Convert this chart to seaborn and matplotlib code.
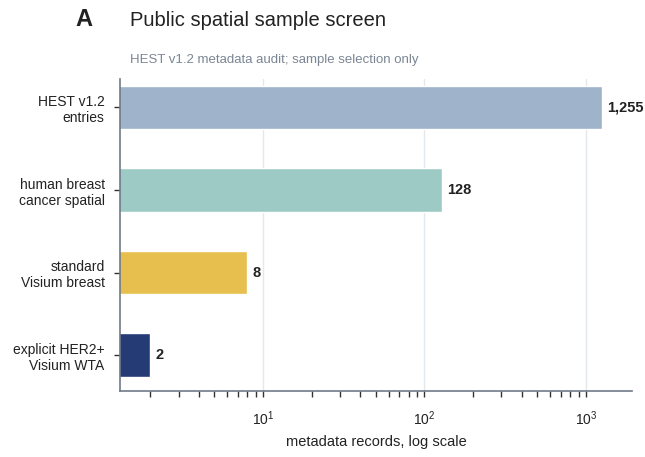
import matplotlib
matplotlib.use("Agg")
import matplotlib.pyplot as plt
import seaborn as sns
import pandas as pd
from matplotlib.ticker import LogLocator, NullFormatter

categories = ["HEST v1.2\nentries", "human breast\ncancer spatial",
              "standard\nVisium breast", "explicit HER2+\nVisium WTA"]
counts = [1255, 128, 8, 2]
count_labels = ["1,255", "128", "8", "2"]
bar_colors = ["#9fb3ca", "#9ecac6", "#e6bf4e", "#243b75"]

sns.set_theme(style="white")
plt.rcParams["font.family"] = ["Liberation Sans", "DejaVu Sans"]

df = pd.DataFrame({"category": categories, "count": counts})

fig = plt.figure(figsize=(6.45, 4.57), dpi=100)
ax = fig.add_axes([120 / 645, 1 - 391 / 457, 512 / 645, 312 / 457])
ax.set_xscale("log")

sns.barplot(data=df, x="count", y="category", hue="category",
            palette=bar_colors, legend=False, width=0.53, ax=ax,
            saturation=1)

ax.set_xlim(1.3, 1930)
ax.set_ylim(3.435, -0.345)

ax.xaxis.set_major_locator(LogLocator(base=10))
ax.xaxis.set_minor_locator(LogLocator(base=10, subs=range(2, 10)))
ax.xaxis.set_minor_formatter(NullFormatter())
ax.grid(axis="x", which="major", color="#e3e7ee", linewidth=1)
ax.set_axisbelow(True)

spine_color = "#6f7a88"
for side in ["top", "right"]:
    ax.spines[side].set_visible(False)
for side in ["left", "bottom"]:
    ax.spines[side].set_color(spine_color)
    ax.spines[side].set_linewidth(1.2)

ax.tick_params(axis="x", which="major", length=4, width=1, color="#333333",
               bottom=True, labelsize=10, pad=9, labelcolor="#222222")
ax.tick_params(axis="x", which="minor", length=4, width=1, color="#333333",
               bottom=True)
ax.tick_params(axis="y", length=4, width=1, color="#333333", left=True,
               labelsize=10, pad=7, labelcolor="#222222")
for lab in ax.get_yticklabels():
    lab.set_horizontalalignment("right")
    lab.set_multialignment("right")

ax.set_ylabel("")
ax.set_xlabel("metadata records, log scale", fontsize=10.5, color="#222222",
              labelpad=5)

for i, (v, t) in enumerate(zip(counts, count_labels)):
    ax.annotate(t, xy=(v, i), xytext=(4, 0), textcoords="offset points",
                ha="left", va="center", fontsize=10.5, fontweight="bold",
                color="#222222")

fig.text(75 / 645, 1 - 20 / 457, "A", fontsize=17, fontweight="bold",
         color="#222222", va="center", ha="left")
fig.text(130 / 645, 1 - 20 / 457, "Public spatial sample screen",
         fontsize=14.5, color="#222222", va="center", ha="left")
fig.text(130 / 645, 1 - 60 / 457, "HEST v1.2 metadata audit; sample selection only",
         fontsize=9.5, color="#7b8694", va="center", ha="left")

fig.savefig("out.png", dpi=100)
